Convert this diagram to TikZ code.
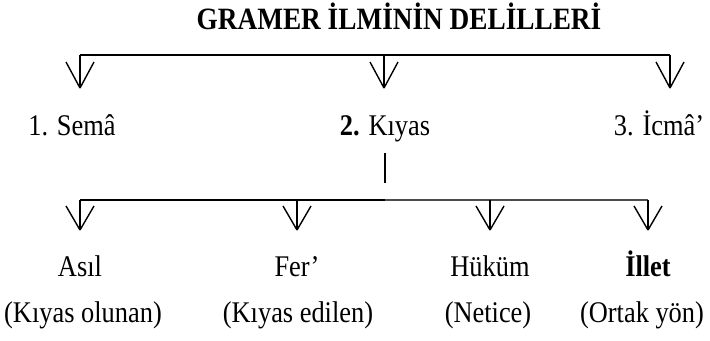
\documentclass[tikz,border=0pt]{standalone}
\usepackage{fontspec}
\setmainfont{Liberation Serif}[FakeStretch=0.88]

\begin{document}
\begin{tikzpicture}[x=0.5pt,y=-0.5pt]
\tikzstyle{every node}=[inner sep=0pt, anchor=base, font=\fontsize{15}{18}\selectfont];
\tikzstyle{branch}=[line width=0.7pt];
\useasboundingbox (0,0) rectangle (710,341);

% title
\draw (399,30) node[font=\fontsize{15.5}{18}\selectfont\bfseries] (title) {GRAMER İLMİNİN DELİLLERİ};

% first level
\coordinate (a0) at (80,55);
\coordinate (b0) at (384,55);
\coordinate (c0) at (670,55);
\coordinate (a1) at (80,88);
\coordinate (b1) at (384,88);
\coordinate (c1) at (670,88);
\draw[line width=0.6pt] (a0) -- (c0);
\foreach \q in {a,b,c} {
  \draw[branch] (\q0) -- (\q1);
  \draw[branch] (\q1) -- ++(-14,-26) (\q1) -- ++(14,-26);
}

\draw (72,136) node (sema) {1. Semâ};
\draw (385,136) node (kiyas) {\textbf{2.} Kıyas};
\draw (659,136) node (icma) {3. İcmâ’};

% second level
\coordinate (k0) at (385,153);
\coordinate (k1) at (385,183);
\draw[line width=1pt] (k0) -- (k1);

\coordinate (d0) at (80,200);
\coordinate (d1) at (297,200);
\coordinate (dm) at (385,200);
\coordinate (d2) at (490,200);
\coordinate (d3) at (648,200);
\draw[line width=0.6pt] (d0) -- (dm);
\draw[line width=1pt, black!70] (dm) -- (d3);
\foreach \p in {0,1,2,3} {
  \draw[branch] (d\p) -- ++(0,30) coordinate (e\p);
  \draw[branch] (e\p) -- ++(-14,-24) (e\p) -- ++(14,-24);
}

\draw (80,276) node (asil) {Asıl};
\draw (297,276) node (fer) {Fer’};
\draw (490,276) node (hukum) {Hüküm};
\draw (648,276) node (illet) {\textbf{İllet}};

\draw (83,322) node (asild) {(Kıyas olunan)};
\draw (298,322) node (ferd) {(Kıyas edilen)};
\draw (488,322) node (hukumd) {(Netice)};
\draw (642,322) node (illetd) {(Ortak yön)};
\end{tikzpicture}
\end{document}
